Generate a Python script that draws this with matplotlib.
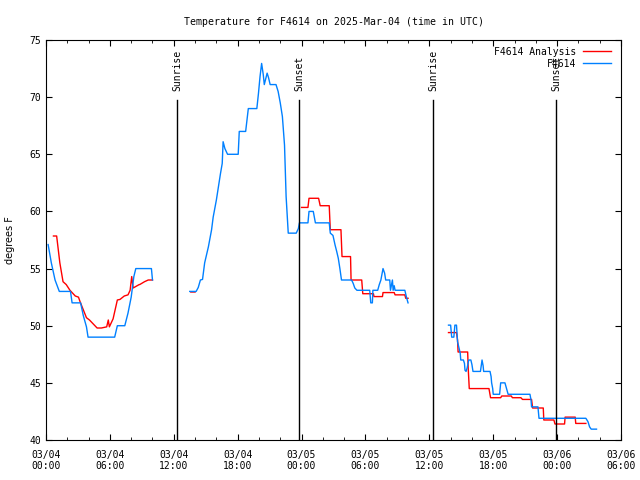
import numpy as np
import matplotlib
matplotlib.use("Agg")
import matplotlib.pyplot as plt
import matplotlib.dates as mdates

start = np.datetime64("2025-03-04T00:00")
nan = np.nan

# hours since 03/04 00:00 UTC, nan = gap in the record
obs_hours = [0.2, 0.5, 0.85, 1.25, 2.3, 2.45, 3.25, 3.5, 3.8, 3.95, 6.45, 6.7, 7.4, 7.7, 8.0, 8.25, 8.45, 9.9, 10.0,
             nan,
             13.5, 14.1, 14.3, 14.5, 14.7, 14.9, 15.25, 15.55, 15.7, 16.0, 16.2, 16.4, 16.55, 16.65, 16.8, 17.05,
             18.05, 18.15, 18.75, 19.0, 19.8, 19.95, 20.1, 20.25, 20.4, 20.5, 20.65, 20.78, 20.9, 21.05, 21.6,
             21.8, 22.0, 22.2, 22.4, 22.55, 22.75, 23.5, 23.7, 23.8, 24.6, 24.7, 25.1, 25.2, 25.3, 26.6,
             26.7, 26.95, 27.15, 27.3, 27.45, 27.6, 27.75, 28.7, 28.85, 29.0, 29.2, 30.4, 30.5, 30.65, 30.7,
             31.15, 31.3, 31.45, 31.65, 31.8, 31.9, 32.3, 32.35, 32.55, 32.6, 32.7, 32.8, 33.7, 33.85, 34.0,
             nan,
             37.8, 38.0, 38.1, 38.3, 38.4, 38.55, 38.65, 38.8, 38.9, 38.95, 39.2, 39.3, 39.35, 39.45, 39.55,
             39.7, 39.9, 40.0, 40.1, 40.8, 40.95, 41.05, 41.1, 41.7, 41.8, 41.85, 41.95, 42.0, 42.6, 42.7,
             43.1, 43.25, 43.4, 45.45, 45.55, 45.6, 46.2, 46.3, 50.7, 50.9, 51.05, 51.2, 51.7]
obs_temps = [57.1, 55.5, 54.0, 53.0, 53.0, 52.0, 52.0, 50.9, 49.9, 49.0, 49.0, 50.0, 50.0, 51.1, 52.5, 54.3, 55.0, 55.0, 54.0,
             nan,
             53.0, 53.0, 53.35, 54.0, 54.05, 55.5, 56.9, 58.4, 59.5, 61.0, 62.2, 63.3, 64.2, 66.1, 65.5, 65.0,
             65.0, 67.0, 67.0, 69.0, 69.0, 70.3, 71.8, 72.95, 72.0, 71.1, 71.65, 72.1, 71.7, 71.1, 71.1,
             70.5, 69.5, 68.3, 65.8, 61.3, 58.1, 58.1, 58.5, 59.0, 59.0, 60.0, 60.0, 59.5, 59.0, 59.0,
             58.1, 57.9, 57.05, 56.5, 55.9, 55.0, 54.0, 54.0, 53.7, 53.3, 53.1, 53.1, 52.0, 52.0, 53.1,
             53.1, 53.6, 54.0, 55.0, 54.6, 54.0, 54.0, 53.1, 54.0, 53.1, 53.5, 53.1, 53.1, 52.5, 52.0,
             nan,
             50.05, 50.05, 49.0, 49.0, 50.05, 50.05, 48.6, 48.0, 47.6, 47.0, 47.0, 46.7, 46.1, 46.0, 46.3,
             47.0, 47.0, 46.6, 46.0, 46.0, 47.0, 46.5, 46.0, 46.0, 45.55, 45.0, 44.5, 44.0, 44.0, 45.0,
             45.0, 44.5, 44.0, 44.0, 43.5, 42.9, 42.9, 41.9, 41.9, 41.6, 41.15, 40.95, 40.95]

ana_hours = [0.7, 1.0, 1.3, 1.6, 1.9, 2.25, 2.75, 3.05, 3.2, 3.5, 3.8, 4.1, 4.8, 5.2, 5.7, 5.85, 5.95, 6.3, 6.7,
             6.95, 7.35, 7.7, 7.9, 8.05, 8.2, 8.75, 8.8, 9.25, 9.6, 9.9, 10.0,
             nan,
             13.6, 14.0,
             nan,
             24.0, 24.6, 24.7, 25.6, 25.75, 26.6, 26.65, 26.7, 27.7, 27.8, 28.6, 28.65, 29.65, 29.75, 30.75,
             30.8, 31.6, 31.65, 32.7, 32.8, 33.7, 33.8, 34.0,
             nan,
             37.8, 38.55, 38.65, 38.7, 39.6, 39.65, 39.75, 41.6, 41.75, 42.7, 42.8, 43.7, 43.8, 44.6, 44.75,
             45.6, 45.7, 46.7, 46.75, 47.7, 47.8, 48.7, 48.75, 49.7, 49.75, 50.7]
ana_temps = [57.85, 57.85, 55.5, 53.85, 53.6, 53.1, 52.6, 52.5, 52.1, 51.4, 50.7, 50.5, 49.8, 49.8, 49.9, 50.5,
             49.9, 50.6, 52.25, 52.3, 52.6, 52.7, 53.1, 54.3, 53.3, 53.6, 53.6, 53.85, 54.0, 54.0, 54.0,
             nan,
             52.95, 52.95,
             nan,
             60.35, 60.35, 61.15, 61.15, 60.5, 60.5, 59.4, 58.4, 58.4, 56.05, 56.05, 54.0, 54.0, 52.8, 52.8,
             52.55, 52.55, 52.9, 52.9, 52.7, 52.7, 52.4, 52.4,
             nan,
             49.4, 49.4, 48.75, 47.7, 47.7, 46.3, 44.5, 44.5, 43.7, 43.7, 43.85, 43.85, 43.7, 43.7, 43.55,
             43.55, 42.8, 42.8, 41.75, 41.75, 41.4, 41.4, 42.0, 42.0, 41.45, 41.45]

sun_hours = [12.3, 23.78, 36.35, 47.9]
sun_labels = ["Sunrise", "Sunset", "Sunrise", "Sunset"]


def to_time(hours):
    mins = np.nan_to_num(np.array(hours) * 60).astype(int)
    return start + mins.astype("timedelta64[m]")


obs_t = to_time(obs_hours)
ana_t = to_time(ana_hours)

mono = "DejaVu Sans Mono"
fig = plt.figure(figsize=(6.4, 4.8), dpi=100)
ax = fig.add_axes([46 / 640, 40 / 480, 575 / 640, 400 / 480])

ax.plot(ana_t, ana_temps, color="#ff0000", lw=1.0, label="F4614 Analysis")
ax.plot(obs_t, obs_temps, color="#0080ff", lw=1.0, label="F4614")

for h, lab in zip(sun_hours, sun_labels):
    t = to_time([h])[0]
    ax.axvline(t, ymin=0, ymax=0.85, color="black", lw=1.0)
    ax.text(t, 70.5, lab, rotation=90, ha="center", va="bottom", family=mono, fontsize=7)

ax.set_xlim(start, start + np.timedelta64(54, "h"))
ax.set_ylim(40, 75)
ax.xaxis.set_major_locator(mdates.HourLocator(byhour=[0, 6, 12, 18]))
ax.xaxis.set_minor_locator(mdates.HourLocator(interval=2))
ax.xaxis.set_major_formatter(mdates.DateFormatter("%m/%d\n%H:%M"))
ax.set_yticks(range(40, 76, 5))
ax.tick_params(which="both", direction="in", top=True, right=True, labelsize=7)
ax.tick_params(which="major", length=4.5)
ax.tick_params(which="minor", length=2.2)
ax.tick_params(axis="x", pad=7)
for lb in ax.get_xticklabels() + ax.get_yticklabels():
    lb.set_family(mono)

ax.set_title("Temperature for F4614 on 2025-Mar-04 (time in UTC)", family=mono, fontsize=7.1, pad=11)
ax.set_ylabel("degrees F", fontsize=7, labelpad=10)

ax.legend(loc="upper right", bbox_to_anchor=(0.995, 1.0), frameon=False, markerfirst=False,
          prop={"family": mono, "size": 7}, handlelength=2.9, labelspacing=0.2,
          borderaxespad=0.3, handletextpad=0.7)

fig.savefig("out.png", dpi=100)
